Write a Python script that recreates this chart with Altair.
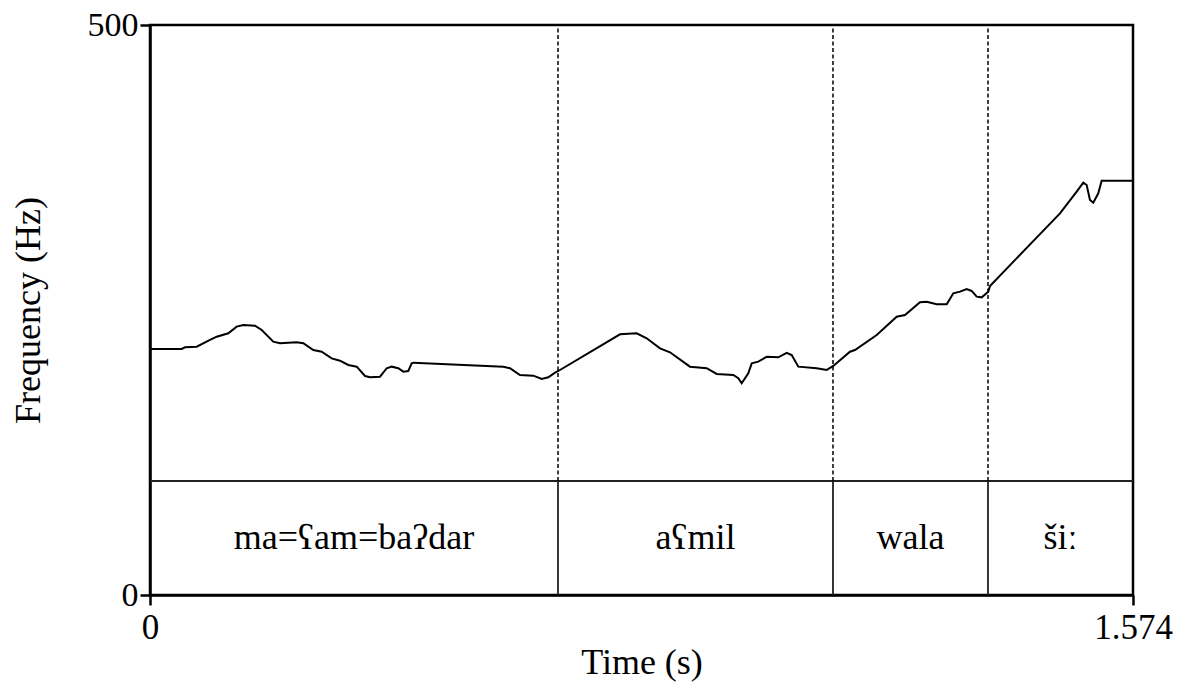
import altair as alt
import pandas as pd

# Pitch contour (time in s, frequency in Hz)
times = [0.000, 0.0508, 0.0560, 0.0748, 0.0961, 0.1068, 0.1254, 0.1388, 0.1494, 0.1681,
         0.1789, 0.1974, 0.2082, 0.2349, 0.2455, 0.2615, 0.2749, 0.2909, 0.3042, 0.3175,
         0.3310, 0.3443, 0.3523, 0.3683, 0.3790, 0.3870, 0.3976, 0.4056, 0.4136, 0.4190,
         0.4216, 0.5657, 0.5764, 0.5924, 0.6137, 0.6272, 0.6378, 0.6485, 0.6538, 0.7526,
         0.7793, 0.7953, 0.8166, 0.8326, 0.8646, 0.8914, 0.9074, 0.9340, 0.9420, 0.9474,
         0.9580, 0.9635, 0.9740, 0.9875, 1.0060, 1.0195, 1.0275, 1.0381, 1.0675, 1.0836,
         1.0941, 1.1208, 1.1288, 1.1636, 1.1956, 1.2089, 1.2329, 1.2437, 1.2597, 1.2757,
         1.2863, 1.2970, 1.3077, 1.3157, 1.3237, 1.3317, 1.3423, 1.3450, 1.4571, 1.4838,
         1.4944, 1.4998, 1.5051, 1.5104, 1.5184, 1.5238, 1.5740]
freqs = [215.8, 215.8, 217.3, 217.8, 223.7, 226.6, 229.6, 235.4, 236.8, 236.2,
         232.5, 222.2, 220.8, 221.7, 220.8, 214.9, 213.4, 207.6, 205.5, 201.8,
         200.3, 192.1, 191.0, 191.5, 198.9, 200.3, 198.9, 195.9, 196.5, 203.2,
         203.8, 200.3, 198.9, 193.0, 192.4, 189.5, 191.0, 195.0, 196.5, 228.7,
         229.6, 225.2, 216.4, 212.9, 200.3, 198.9, 193.9, 193.0, 190.1, 185.7,
         194.5, 203.2, 204.7, 209.0, 208.5, 212.5, 210.5, 200.3, 198.9, 197.4,
         200.9, 213.4, 214.9, 228.1, 244.1, 245.6, 256.8, 257.3, 255.0, 255.0,
         264.6, 266.1, 268.4, 266.7, 261.7, 261.1, 266.1, 271.1, 334.8, 353.8,
         361.7, 359.6, 346.5, 344.1, 352.4, 363.4, 363.4]

# Text grid
t_start = 0.0
t_end = 1.574
boundaries = [0.6533, 1.0936, 1.3418]
words = ["ma=ʕam=baʔdar", "aʕmil", "wala", "šiː"]
tier_top = 100
y_max = 500

FONT = "Liberation Serif"
FS = 36
FS_XTICK = 35
FS_YTICK = 34

edges = [t_start] + boundaries + [t_end]
mids = [(edges[i] + edges[i + 1]) / 2 for i in range(len(words))]

pitch_df = pd.DataFrame({"t": times, "f": freqs})
bound_df = pd.DataFrame({"t": boundaries, "lo": [tier_top] * len(boundaries),
                         "hi": [y_max] * len(boundaries), "zero": [0] * len(boundaries)})
word_df = pd.DataFrame({"t": mids, "w": words, "y": [tier_top / 2] * len(words)})
tier_df = pd.DataFrame({"y": [tier_top]})

xs = alt.Scale(domain=[t_start, t_end], nice=False, zero=False)
ys = alt.Scale(domain=[0, y_max], nice=False)

x_axis = alt.Axis(values=[t_start, t_end], format=".3~f", title="Time (s)", grid=False,
                  labelFont=FONT, labelFontSize=FS_XTICK, titleFont=FONT, titleFontSize=FS,
                  titleFontWeight="normal", labelColor="black", titleColor="black",
                  tickColor="black", domainColor="black", tickSize=10, tickWidth=2.5,
                  domainWidth=2.5, labelPadding=5, titlePadding=0, labelFlush=False,
                  labelOverlap=False, labelBound=False)
y_axis = alt.Axis(values=[0, y_max], format="d", title="Frequency (Hz)", grid=False,
                  labelFont=FONT, labelFontSize=FS_YTICK, titleFont=FONT, titleFontSize=FS,
                  titleFontWeight="normal", labelColor="black", titleColor="black",
                  tickColor="black", domainColor="black", tickSize=10, tickWidth=2.5,
                  domainWidth=2.5, labelPadding=2, titlePadding=40, labelFlush=False,
                  labelOverlap=False, labelBound=False)

pitch = alt.Chart(pitch_df).mark_line(color="black", strokeWidth=2, interpolate="linear").encode(
    x=alt.X("t:Q", scale=xs, axis=x_axis),
    y=alt.Y("f:Q", scale=ys, axis=y_axis),
)

dashed = alt.Chart(bound_df).mark_rule(color="black", strokeWidth=1.5, strokeDash=[4, 2.5]).encode(
    x="t:Q", y="lo:Q", y2="hi:Q"
)

solid = alt.Chart(bound_df).mark_rule(color="#222222", strokeWidth=1.8).encode(
    x="t:Q", y="zero:Q", y2="lo:Q"
)

tier_line = alt.Chart(tier_df).mark_rule(color="#222222", strokeWidth=2).encode(
    y="y:Q"
)

labels = alt.Chart(word_df).mark_text(font=FONT, fontSize=FS, color="black",
                                      align="center", baseline="middle").encode(
    x="t:Q", y="y:Q", text="w:N"
)

chart = alt.layer(tier_line, solid, dashed, pitch, labels).properties(
    width=983, height=570,
    autosize=alt.AutoSizeParams(type="none"),
    padding={"left": 142, "top": 17, "right": 40, "bottom": 100},
).configure_view(stroke="black", strokeWidth=2.5)

chart.save("out.html", embed_options={"renderer": "svg", "actions": False})
